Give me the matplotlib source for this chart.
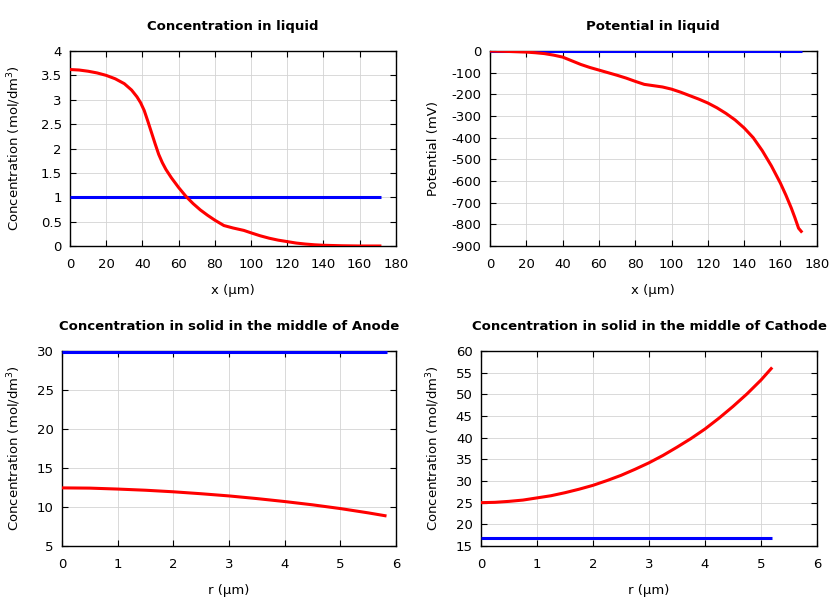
"""Battery cell profiles: liquid concentration/potential and solid concentrations."""
import matplotlib
matplotlib.use("Agg")
import matplotlib.pyplot as plt

# Concentration in liquid (x in um, c in mol/dm3)
liq_x = [0, 5, 10, 15, 20, 25, 30, 34, 37, 39, 41, 43, 45, 47, 49, 51, 53, 56,
         60, 64, 68, 72, 76, 80, 85, 90, 96, 100, 105, 110, 115, 120, 125, 130,
         135, 140, 150, 160, 172]
liq_c = [3.62, 3.61, 3.585, 3.55, 3.50, 3.43, 3.33, 3.20, 3.06, 2.94, 2.78, 2.56,
         2.33, 2.10, 1.88, 1.71, 1.57, 1.40, 1.20, 1.02, 0.87, 0.74, 0.63, 0.53,
         0.42, 0.37, 0.32, 0.27, 0.21, 0.16, 0.12, 0.09, 0.06, 0.04, 0.025,
         0.015, 0.005, 0.0, 0.0]
liq_c_ref_x = [0, 172]
liq_c_ref = [1.0, 1.0]

# Potential in liquid (mV)
pot_x = [0, 10, 20, 25, 30, 35, 40, 45, 50, 55, 60, 65, 70, 75, 80, 85, 90, 95,
         100, 105, 110, 115, 120, 125, 130, 135, 140, 145, 150, 155, 160, 163,
         166, 168, 170, 172]
pot_v = [0, -2, -5, -8, -12, -19, -28, -45, -62, -76, -88, -100, -112, -125,
         -140, -154, -160, -166, -176, -190, -206, -222, -240, -262, -288, -318,
         -355, -400, -460, -530, -610, -665, -725, -770, -818, -838]
pot_ref_x = [0, 172]
pot_ref = [0, 0]

# Concentration in solid, middle of anode
an_r = [0, 0.5, 1, 1.5, 2, 2.5, 3, 3.5, 4, 4.5, 5, 5.5, 5.83]
an_c = [12.45, 12.42, 12.3, 12.15, 11.95, 11.7, 11.42, 11.08, 10.7, 10.28,
        9.8, 9.25, 8.85]
an_ref_r = [0, 5.83]
an_ref = [29.9, 29.9]

# Concentration in solid, middle of cathode
ca_r = [0, 0.25, 0.5, 0.75, 1, 1.25, 1.5, 1.75, 2, 2.25, 2.5, 2.75, 3, 3.25,
        3.5, 3.75, 4, 4.25, 4.5, 4.75, 5, 5.2]
ca_c = [25.0, 25.08, 25.3, 25.6, 26.1, 26.6, 27.3, 28.1, 29.0, 30.1, 31.3, 32.7,
        34.2, 35.9, 37.8, 39.8, 42.0, 44.5, 47.2, 50.1, 53.3, 56.2]
ca_ref_r = [0, 5.2]
ca_ref = [16.8, 16.8]

ylab_c = "Concentration (mol/dm$^3$)"

plt.rcParams["font.family"] = "DejaVu Sans"
plt.rcParams["font.size"] = 9.5

fig = plt.figure(figsize=(8.4, 6.0), dpi=100)
# rect, title, xlabel, ylabel, ylabel x (axes coords), data, limits, ticks
panels = [
    ([0.0833, 0.59, 0.388, 0.325], "Concentration in liquid", "x (µm)", ylab_c, -0.145,
     liq_x, liq_c, liq_c_ref_x, liq_c_ref, (0, 180), range(0, 181, 20),
     (0, 4), [0, 0.5, 1, 1.5, 2, 2.5, 3, 3.5, 4]),
    ([0.5833, 0.59, 0.389, 0.325], "Potential in liquid", "x (µm)", "Potential (mV)", -0.153,
     pot_x, pot_v, pot_ref_x, pot_ref, (0, 180), range(0, 181, 20),
     (-900, 0), range(-900, 1, 100)),
    ([0.0738, 0.09, 0.3976, 0.325], "Concentration in solid in the middle of Anode",
     "r (µm)", ylab_c, -0.117, an_r, an_c, an_ref_r, an_ref, (0, 6), range(0, 7),
     (5, 30), range(5, 31, 5)),
    ([0.5726, 0.09, 0.40, 0.325], "Concentration in solid in the middle of Cathode",
     "r (µm)", ylab_c, -0.116, ca_r, ca_c, ca_ref_r, ca_ref, (0, 6), range(0, 7),
     (15, 60), range(15, 61, 5)),
]

for rect, title, xlab, ylab, ylx, x, y, xr, yr, xlim, xt, ylim, yt in panels:
    ax = fig.add_axes(rect)
    ax.plot(xr, yr, color="#0000ff", lw=2.2, solid_capstyle="butt", zorder=3)
    ax.plot(x, y, color="#ff0000", lw=2.2, solid_capstyle="butt", zorder=4)
    ax.set_xlim(*xlim)
    ax.set_ylim(*ylim)
    ax.set_xticks(list(xt))
    ax.set_yticks(list(yt))
    ax.set_yticklabels([f"{v:g}" for v in yt])
    ax.grid(True, color="#d3d3d3", lw=0.6)
    ax.set_axisbelow(True)
    ax.tick_params(direction="in", top=True, right=True, length=4, width=0.8, pad=6)
    ax.tick_params(axis="x", pad=9)
    for s in ax.spines.values():
        s.set_linewidth(1.0)
    ax.set_title(title, fontweight="bold", fontsize=9.5, pad=15)
    ax.set_xlabel(xlab, labelpad=9)
    ax.set_ylabel(ylab)
    ax.yaxis.set_label_coords(ylx, 0.5)

fig.savefig("out.png", dpi=100)
